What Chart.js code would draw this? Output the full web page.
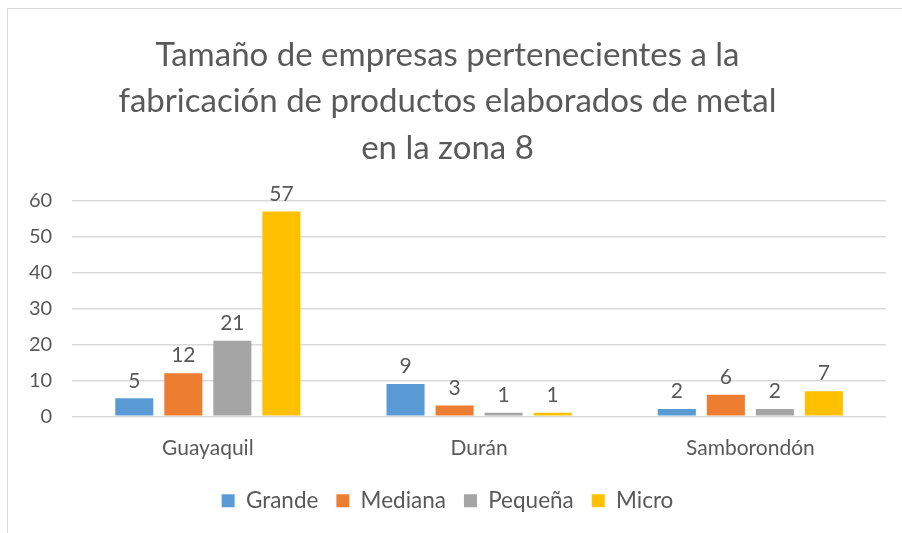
<!DOCTYPE html>
<html>
<head>
<meta charset="utf-8">
<script src="https://cdn.jsdelivr.net/npm/chart.js@4"></script>
<style>
  html, body { margin: 0; padding: 0; background: #fff; }
  #wrap { position: relative; width: 902px; height: 533px; }
  #frame { position: absolute; left: 7px; top: 8px; width: 920px; height: 540px; border: 1px solid #d9d9d9; }
  canvas { position: absolute; left: 0; top: 0; }
</style>
</head>
<body>
<div id="wrap">
  <div id="frame"></div>
  <canvas id="chart" width="902" height="533"></canvas>
</div>
<script>
const categories = ["Guayaquil", "Durán", "Samborondón"];
const grande = [5, 9, 2];
const mediana = [12, 3, 6];
const pequena = [21, 1, 2];
const micro = [57, 1, 7];
const yTicks = [0, 10, 20, 30, 40, 50, 60];

const textColor = "#595959";
const fontFamily = "Lato, 'Open Sans', sans-serif";

// valores encima de cada barra
const barValues = {
    id: "barValues",
    afterDatasetsDraw(chart) {
        const ctx = chart.ctx;
        ctx.save();
        ctx.font = "21px " + fontFamily;
        ctx.fillStyle = textColor;
        ctx.textAlign = "center";
        ctx.textBaseline = "bottom";
        chart.data.datasets.forEach((ds, i) => {
            chart.getDatasetMeta(i).data.forEach((bar, j) => {
                ctx.fillText(ds.data[j], bar.x, bar.y - 7);
            });
        });
        ctx.restore();
    }
};

new Chart(document.getElementById("chart"), {
    type: "bar",
    data: {
        labels: categories,
        datasets: [
            { label: "Grande", data: grande, backgroundColor: "#5b9bd5" },
            { label: "Mediana", data: mediana, backgroundColor: "#ed7d31" },
            { label: "Pequeña", data: pequena, backgroundColor: "#a5a5a5" },
            { label: "Micro", data: micro, backgroundColor: "#ffc000" }
        ]
    },
    options: {
        responsive: false,
        animation: false,
        layout: { padding: { left: 9, right: 16, top: 32, bottom: 11 } },
        datasets: { bar: { categoryPercentage: 0.723, barPercentage: 0.776 } },
        plugins: {
            title: {
                display: true,
                text: ["Tamaño de empresas pertenecientes a la", "fabricación de productos elaborados de metal", "en la zona 8"],
                color: textColor,
                font: { family: fontFamily, size: 33, weight: "normal", lineHeight: 1.41 },
                padding: { top: 0, bottom: 29 }
            },
            legend: {
                position: "bottom",
                labels: {
                    color: textColor,
                    font: { family: fontFamily, size: 22.5 },
                    boxWidth: 13,
                    boxHeight: 13,
                    padding: 18
                }
            },
            tooltip: { enabled: false }
        },
        scales: {
            x: {
                grid: { display: false },
                border: { display: false },
                ticks: { color: textColor, font: { family: fontFamily, size: 21 }, padding: 11 }
            },
            y: {
                min: 0,
                max: 60,
                afterBuildTicks: axis => { axis.ticks = yTicks.map(v => ({ value: v })); },
                grid: { color: "#d9d9d9", lineWidth: 1.5, drawTicks: false },
                border: { display: false },
                ticks: { color: textColor, font: { family: fontFamily, size: 20 }, padding: 20 }
            }
        }
    },
    plugins: [barValues]
});
</script>
</body>
</html>
